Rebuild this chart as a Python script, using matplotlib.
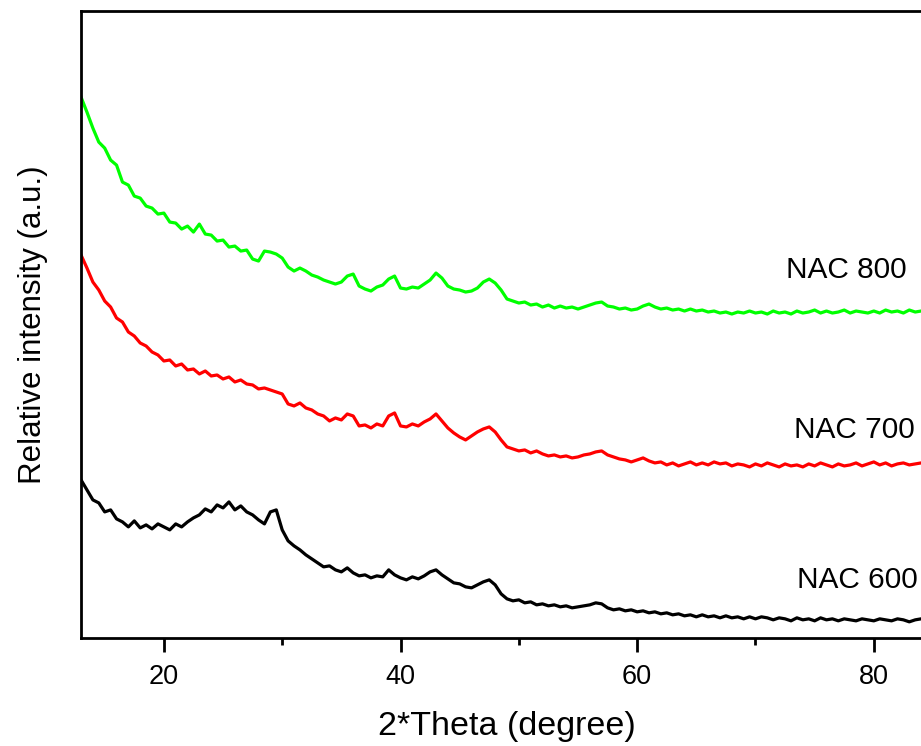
import matplotlib.pyplot as plt
import numpy as np

plt.rcParams['font.family'] = ['Liberation Sans', 'DejaVu Sans']

# XRD patterns, every 0.5 degree from 13 to 84
theta_start = 13.0
theta_step = 0.5

nac800 = [541, 526, 510, 496, 490, 478, 473, 456, 453, 442, 440, 432, 430, 424, 425, 416,
          415, 409, 412, 406, 414, 404, 403, 397, 398, 391, 392, 387, 388, 379, 377, 387,
          386, 384, 380, 371, 367, 370, 367, 363, 361, 358, 356, 354, 356, 362, 364, 352,
          349, 347, 351, 353, 359, 362, 350, 349, 351, 350, 354, 358, 365, 360, 352, 349,
          348, 346, 347, 350, 356, 359, 355, 348, 339, 337, 335, 336, 333, 334, 331, 333,
          330, 332, 330, 331, 329, 331, 333, 335, 336, 332, 331, 329, 330, 328, 329, 332,
          334, 331, 329, 330, 328, 329, 327, 329, 327, 328, 326, 327, 325, 326, 324, 326,
          325, 327, 325, 326, 324, 327, 325, 326, 324, 327, 325, 326, 328, 325, 327, 325,
          326, 328, 325, 327, 326, 325, 327, 325, 328, 326, 327, 325, 328, 326, 327]

nac700 = [383, 370, 356, 348, 337, 331, 320, 316, 306, 302, 295, 292, 286, 283, 277, 278,
          272, 274, 268, 269, 264, 267, 262, 263, 259, 261, 256, 258, 254, 253, 249, 250,
          248, 246, 244, 234, 232, 235, 230, 228, 224, 222, 217, 220, 218, 224, 222, 212,
          213, 210, 214, 212, 222, 225, 212, 211, 214, 212, 216, 219, 224, 217, 210, 205,
          201, 198, 202, 206, 209, 211, 206, 198, 191, 189, 187, 188, 185, 187, 184, 182,
          183, 181, 182, 180, 181, 183, 184, 186, 187, 183, 181, 179, 178, 176, 178, 180,
          177, 175, 176, 173, 175, 172, 174, 176, 173, 175, 173, 176, 174, 175, 172, 174,
          173, 171, 174, 172, 175, 173, 171, 174, 172, 173, 171, 174, 172, 175, 173, 171,
          174, 172, 173, 175, 172, 174, 176, 173, 175, 172, 174, 175, 173, 174, 175]

nac600 = [158, 148, 138, 135, 126, 128, 119, 116, 111, 117, 110, 113, 109, 114, 111, 108,
          114, 111, 116, 120, 123, 129, 126, 133, 130, 136, 128, 132, 126, 123, 118, 114,
          126, 128, 108, 97, 92, 88, 83, 79, 75, 71, 72, 68, 66, 70, 65, 62,
          63, 60, 62, 61, 68, 63, 60, 58, 61, 59, 62, 66, 68, 63, 59, 55,
          54, 51, 50, 53, 56, 58, 53, 44, 39, 37, 38, 35, 36, 33, 34, 32,
          33, 31, 32, 30, 31, 32, 33, 35, 34, 30, 28, 29, 27, 28, 26, 27,
          25, 26, 24, 25, 23, 24, 22, 23, 21, 23, 21, 22, 20, 22, 20, 21,
          19, 21, 19, 21, 20, 18, 20, 19, 17, 20, 18, 19, 17, 20, 18, 19,
          17, 19, 18, 17, 19, 18, 17, 19, 18, 17, 19, 18, 16, 18, 19]

labels = ['NAC 800', 'NAC 700', 'NAC 600']
label_pos = [(82.8, 368), (83.5, 208), (83.7, 58)]
colors = ['#00ff00', '#ff0000', '#000000']

fig = plt.figure(figsize=(9.21, 7.46), dpi=100)
ax = fig.add_axes([0.088, 0.145, 0.925, 0.84])

for y, c in zip([nac800, nac700, nac600], colors):
    x = theta_start + theta_step * np.arange(len(y))
    ax.plot(x, y, color=c, lw=2.3)

for lab, (lx, ly) in zip(labels, label_pos):
    ax.text(lx, ly, lab, fontsize=21.5, ha='right', va='center')

ax.set_xlim(13, 85)
ax.set_ylim(0, 627)
ax.set_xticks([20, 40, 60, 80])
ax.set_xticks([30, 50, 70], minor=True)
ax.set_yticks([])
ax.tick_params(axis='x', which='major', direction='out', length=10, width=2, labelsize=19.5, pad=9)
ax.tick_params(axis='x', which='minor', direction='out', length=5, width=2)
for s in ax.spines.values():
    s.set_linewidth(2)

ax.set_xlabel('2*Theta (degree)', fontsize=24.5, labelpad=15)
ax.set_ylabel('Relative intensity (a.u.)', fontsize=22.5, labelpad=24)

fig.savefig('out.png', dpi=100)
